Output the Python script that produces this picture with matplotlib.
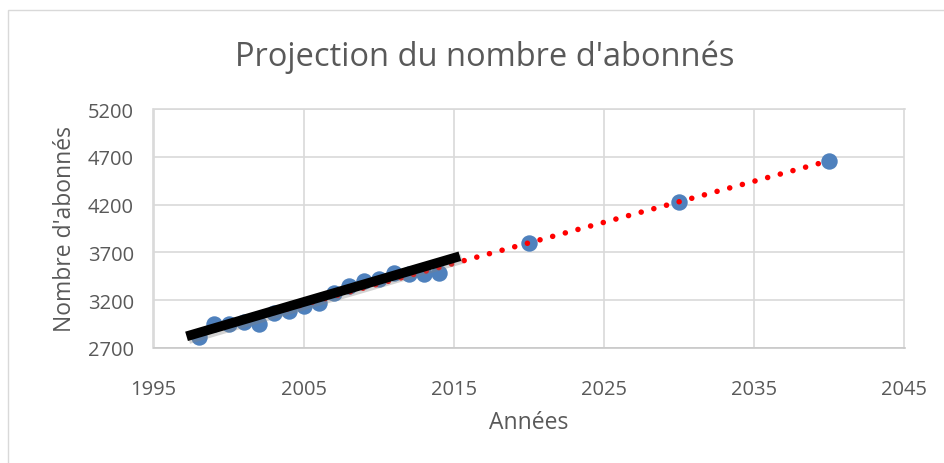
"""Projection du nombre d'abonnés - scatter with two linear trend lines."""

import matplotlib.pyplot as plt
import matplotlib.patheffects as pe
from matplotlib.patches import Rectangle

# observed subscribers
years_hist = [1998, 1999, 2000, 2001, 2002, 2003, 2004, 2005, 2006,
              2007, 2008, 2009, 2010, 2011, 2012, 2013, 2014]
subs_hist = [2815, 2955, 2950, 2973, 2950, 3071, 3088, 3140, 3168,
             3279, 3350, 3400, 3418, 3480, 3470, 3470, 3487]

# projected subscribers
years_proj = [2020, 2030, 2040]
subs_proj = [3800, 4230, 4660]

# trend lines (end points)
trend_hist_years = [1997.2, 2015.4]
trend_hist_vals = [2822, 3660]
trend_all_years = [1998, 2040]
trend_all_vals = [2854, 4660]

x_ticks = [1995, 2005, 2015, 2025, 2035, 2045]
y_ticks = [2700, 3200, 3700, 4200, 4700, 5200]

TEXT = "#595959"
GRID = "#D9D9D9"
BLUE = "#4F81BD"

plt.rcParams["font.family"] = ["Open Sans", "DejaVu Sans"]

fig = plt.figure(figsize=(9.45, 4.64), dpi=100)
ax = fig.add_axes([153.5 / 945, 1 - 349 / 464, 751 / 945, 239 / 464])

# chart frame
fig.patches.append(Rectangle((8 / 945, -0.1), 1.2, 1 - 11 / 464 + 0.1,
                             transform=fig.transFigure, fill=False,
                             edgecolor=GRID, linewidth=1.0))

ax.scatter(years_hist + years_proj, subs_hist + subs_proj, s=140,
           color=BLUE, zorder=3, linewidths=0)

ax.plot(trend_all_years, trend_all_vals, color="red", linewidth=4.0,
        linestyle=(0, (0.01, 2.35)), dash_capstyle="round", zorder=4)

ax.plot(trend_hist_years, trend_hist_vals, color="black", linewidth=7.0,
        solid_capstyle="butt", zorder=5,
        path_effects=[pe.SimpleLineShadow(offset=(1.5, -2), shadow_color="gray", alpha=0.35),
                      pe.Normal()])

ax.set_xlim(1995, 2045)
ax.set_ylim(2700, 5200)
ax.set_xticks(x_ticks)
ax.set_yticks(y_ticks)
ax.grid(True, color=GRID, linewidth=1.2)
ax.set_axisbelow(True)
for side in ax.spines.values():
    side.set_color(GRID)
    side.set_linewidth(1.2)
ax.spines["bottom"].set_color("#C8C8C8")
ax.tick_params(length=0, labelsize=14.5, labelcolor=TEXT)
ax.tick_params(axis="x", pad=22)
ax.tick_params(axis="y", pad=14)

ax.set_xlabel("Années", fontsize=16.5, color=TEXT, labelpad=8)
ax.set_ylabel("Nombre d'abonnés", fontsize=16.5, color=TEXT, labelpad=8)
fig.text(485 / 945, 1 - 57 / 464, "Projection du nombre d'abonnés",
         fontsize=23.5, color=TEXT, ha="center", va="center")

fig.savefig("out.png", dpi=100)
plt.close(fig)
